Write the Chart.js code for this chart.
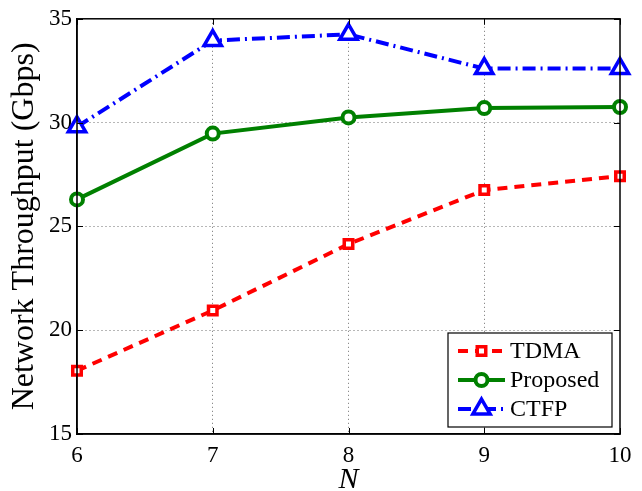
<!DOCTYPE html>
<html>
<head>
<meta charset="utf-8">
<script src="https://cdn.jsdelivr.net/npm/chart.js@4.4.0/dist/chart.umd.min.js"></script>
<style>
  html, body { margin: 0; background: #fff; }
  #wrap { width: 642px; height: 491px; }
</style>
</head>
<body>
<div id="wrap"><canvas id="chart"></canvas></div>
<script>
const nValues = [6, 7, 8, 9, 10];
const tdma = [18.05, 20.95, 24.15, 26.75, 27.42];
const proposed = [26.3, 29.47, 30.25, 30.7, 30.75];
const ctfp = [29.8, 33.95, 34.25, 32.6, 32.6];
const yTicks = [15, 20, 25, 30, 35];

const SERIF = '"Liberation Serif", "Times New Roman", serif';

function points(vals) {
    return nValues.map((n, i) => ({ x: n, y: vals[i] }));
}

// box, inward tick marks on all four sides, and the legend
const framePlugin = {
    id: 'frame',
    afterDraw(chart) {
        const ctx = chart.ctx;
        const a = chart.chartArea;
        const xs = chart.scales.x, ys = chart.scales.y;
        ctx.save();
        ctx.setLineDash([]);
        ctx.strokeStyle = '#000';
        ctx.lineWidth = 1.5;
        ctx.strokeRect(a.left, a.top, a.right - a.left, a.bottom - a.top);

        ctx.lineWidth = 1;
        const tl = 6;
        ctx.beginPath();
        nValues.forEach(n => {
            const px = Math.round(xs.getPixelForValue(n)) + 0.5;
            ctx.moveTo(px, a.bottom); ctx.lineTo(px, a.bottom - tl);
            ctx.moveTo(px, a.top); ctx.lineTo(px, a.top + tl);
        });
        yTicks.forEach(v => {
            const py = Math.round(ys.getPixelForValue(v)) + 0.5;
            ctx.moveTo(a.left, py); ctx.lineTo(a.left + tl, py);
            ctx.moveTo(a.right, py); ctx.lineTo(a.right - tl, py);
        });
        ctx.stroke();

        // legend
        const bw = 164, bh = 94;
        const bx = a.right - 8 - bw, by = a.bottom - 7 - bh;
        ctx.fillStyle = '#fff';
        ctx.fillRect(bx, by, bw, bh);
        ctx.lineWidth = 1.2;
        ctx.strokeStyle = '#000';
        ctx.strokeRect(bx, by, bw, bh);

        chart.data.datasets.forEach((ds, i) => {
            const ry = by + 18 + i * 29;
            const x0 = bx + 10, x1 = bx + 57, xm = (x0 + x1) / 2;
            ctx.setLineDash(ds.borderDash || []);
            ctx.strokeStyle = ds.borderColor;
            ctx.lineWidth = ds.borderWidth;
            ctx.beginPath();
            ctx.moveTo(x0, ry); ctx.lineTo(x1, ry);
            ctx.stroke();
            ctx.setLineDash([]);
            ctx.fillStyle = ds.pointBackgroundColor;
            ctx.strokeStyle = ds.pointBorderColor;
            ctx.lineWidth = ds.pointBorderWidth;
            Chart.helpers.drawPoint(ctx, {
                pointStyle: ds.pointStyle, radius: ds.pointRadius,
                rotation: 0, borderWidth: ds.pointBorderWidth
            }, xm, ry);
            ctx.fillStyle = '#000';
            ctx.font = '24px ' + SERIF;
            ctx.textAlign = 'left';
            ctx.textBaseline = 'middle';
            ctx.fillText(ds.label, bx + 62, ry + 1);
        });
        ctx.restore();
    }
};

// hide the grid lines that sit on the frame
const gridColor = ctx => (ctx.index === 0 || ctx.index === ctx.scale.ticks.length - 1)
    ? 'rgba(0,0,0,0)' : '#6f6f6f';

new Chart(document.getElementById('chart'), {
    type: 'line',
    data: {
        datasets: [{
            label: 'TDMA',
            data: points(tdma),
            borderColor: '#ff0000',
            borderWidth: 4,
            borderDash: [10, 7],
            pointStyle: 'rect',
            pointRadius: 6,
            pointBorderWidth: 3.5,
            pointBorderColor: '#ff0000',
            pointBackgroundColor: '#fff',
            clip: false
        }, {
            label: 'Proposed',
            data: points(proposed),
            borderColor: '#008000',
            borderWidth: 4,
            pointStyle: 'circle',
            pointRadius: 6,
            pointBorderWidth: 4,
            pointBorderColor: '#008000',
            pointBackgroundColor: '#fff',
            clip: false
        }, {
            label: 'CTFP',
            data: points(ctfp),
            borderColor: '#0000ff',
            borderWidth: 4,
            borderDash: [13, 5, 2, 5],
            pointStyle: 'triangle',
            pointRadius: 10,
            pointBorderWidth: 3.5,
            pointBorderColor: '#0000ff',
            pointBackgroundColor: '#fff',
            clip: false
        }]
    },
    options: {
        responsive: true,
        maintainAspectRatio: false,
        animation: false,
        devicePixelRatio: 1,
        layout: { padding: { left: 0, right: 22, top: 15, bottom: 0 } },
        plugins: { legend: { display: false }, tooltip: { enabled: false } },
        elements: { line: { tension: 0 } },
        scales: {
            x: {
                type: 'linear',
                min: 6, max: 10,
                afterFit: s => { s.height = 57; },
                ticks: {
                    stepSize: 1, padding: 8, color: '#000',
                    font: { family: SERIF, size: 23 }
                },
                grid: { color: gridColor, lineWidth: 1, drawTicks: false },
                border: { display: true, color: '#000', width: 1.5, dash: [1, 3] },
                title: {
                    display: true, text: 'N', color: '#000',
                    font: { family: SERIF, size: 30, style: 'italic', lineHeight: 0.7 },
                    padding: 0
                }
            },
            y: {
                min: 15, max: 35,
                afterFit: s => { s.width = 77; },
                ticks: {
                    stepSize: 5, padding: 5, color: '#000',
                    font: { family: SERIF, size: 23 }
                },
                grid: { color: gridColor, lineWidth: 1, drawTicks: false },
                border: { display: true, color: '#000', width: 1.5, dash: [1, 3] },
                title: {
                    display: true, text: 'Network Throughput (Gbps)', color: '#000',
                    font: { family: SERIF, size: 32, lineHeight: 1.2 },
                    padding: { top: 5, bottom: 0 }
                }
            }
        }
    },
    plugins: [framePlugin]
});
</script>
</body>
</html>
